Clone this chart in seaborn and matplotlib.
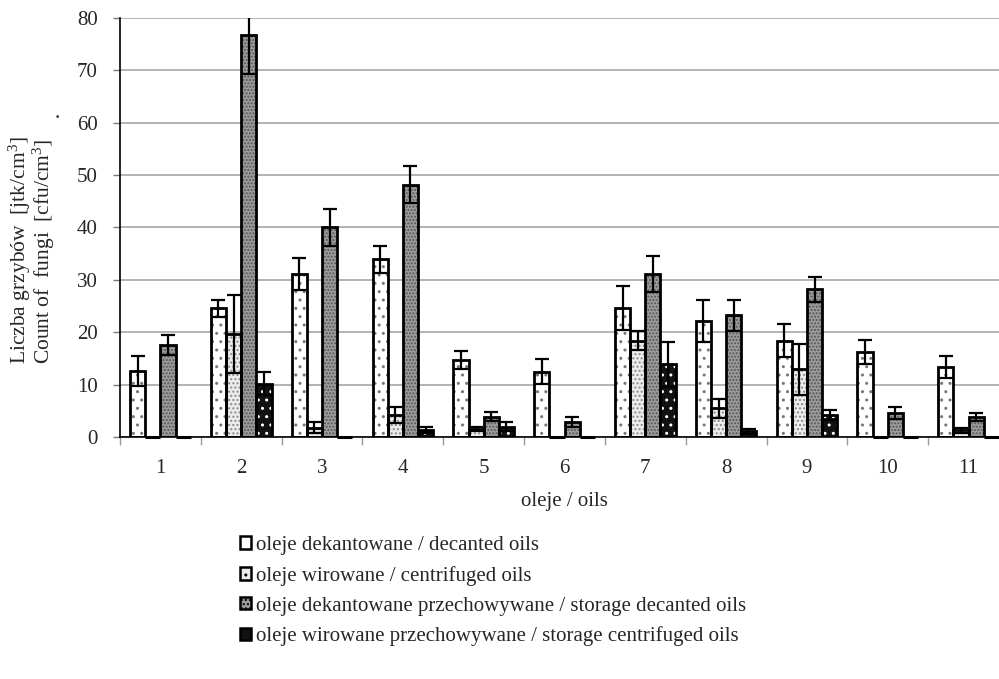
import numpy as np
import pandas as pd
import matplotlib
matplotlib.use("Agg")
import matplotlib.pyplot as plt
from matplotlib.patches import Rectangle, Patch
import seaborn as sns

categories = ["1", "2", "3", "4", "5", "6", "7", "8", "9", "10", "11"]
series_names = [
    "oleje dekantowane / decanted oils",
    "oleje wirowane / centrifuged oils",
    "oleje dekantowane przechowywane / storage decanted oils",
    "oleje wirowane przechowywane / storage centrifuged oils",
]
decanted = [12.6, 24.6, 31.1, 33.9, 14.7, 12.5, 24.6, 22.1, 18.4, 16.2, 13.4]
decanted_err = [2.8, 1.6, 3.1, 2.6, 1.7, 2.3, 4.2, 4.0, 3.2, 2.3, 2.1]
centrifuged = [0, 19.7, 1.8, 4.2, 1.5, 0, 18.4, 5.5, 12.9, 0, 1.3]
centrifuged_err = [0, 7.4, 1.0, 1.6, 0.4, 0, 1.8, 1.8, 4.8, 0, 0.5]
storage_decanted = [17.5, 76.7, 40.0, 48.2, 3.9, 2.9, 31.1, 23.2, 28.2, 4.6, 3.8]
storage_decanted_err = [1.9, 7.3, 3.6, 3.5, 0.8, 0.9, 3.4, 3.0, 2.4, 1.1, 0.8]
storage_centrifuged = [0, 10.2, 0, 1.3, 2.0, 0, 13.9, 1.1, 4.2, 0, 0]
storage_centrifuged_err = [0, 2.2, 0, 0.6, 0.8, 0, 4.3, 0.5, 1.0, 0, 0]

values = [decanted, centrifuged, storage_decanted, storage_centrifuged]
errors = [decanted_err, centrifuged_err, storage_decanted_err, storage_centrifuged_err]

rows = []
for name, vals in zip(series_names, values):
    for c, v in zip(categories, vals):
        rows.append({"cat": c, "series": name, "value": v})
df = pd.DataFrame(rows)

FS = 15

sns.set_style("white")
plt.rcParams["font.family"] = ["Liberation Serif", "DejaVu Serif"]
plt.rcParams["font.size"] = FS
plt.rcParams["mathtext.fontset"] = "custom"
plt.rcParams["mathtext.rm"] = "Liberation Serif"
plt.rcParams["mathtext.it"] = "Liberation Serif"
plt.rcParams["hatch.linewidth"] = 1.0

faces = ["#ffffff", "#ececec", "#9c9c9c", "#111111"]
hatch_colors = ["#777777", "#8a8a8a", "#555555", "#ffffff"]
hatches = ["..", "....", ".....", ".."]

fig = plt.figure(figsize=(9.99, 6.79), dpi=100)
ax = fig.add_axes([120 / 999, 1 - 437 / 679, 889 / 999, 419 / 679])

sns.barplot(data=df, x="cat", y="value", hue="series", order=categories,
            hue_order=series_names, palette=faces, width=0.75, ax=ax,
            legend=False, saturation=1, errorbar=None)

bar_containers = list(ax.containers)
for i, cont in enumerate(bar_containers):
    xs, hs = [], []
    for p in cont.patches:
        x0, y0 = p.get_x(), p.get_y()
        w, h = p.get_width(), p.get_height()
        p.set_hatch(hatches[i])
        p.set_edgecolor(hatch_colors[i])
        p.set_linewidth(0)
        p.set_zorder(2)
        if h > 0:
            ax.add_patch(Rectangle((x0, y0), w, h, fill=False, edgecolor="black",
                                   linewidth=2.0, zorder=3))
        else:
            ax.hlines(y0, x0, x0 + w, color="black", linewidth=2.2, zorder=3.5,
                      clip_on=False)
        xs.append(x0 + w / 2)
        hs.append(h)
    err = np.array(errors[i], dtype=float)
    hs = np.array(hs)
    mask = err > 0
    ax.errorbar(np.array(xs)[mask], hs[mask], yerr=err[mask], fmt="none",
                ecolor="black", elinewidth=1.6, capsize=5, capthick=1.6, zorder=4)

ax.set_xlim(-0.5, 10.5)
ax.set_ylim(0, 80)
ax.set_yticks(np.arange(0, 81, 10))
ax.yaxis.grid(True, color="#a6a6a6", linewidth=1.2)
ax.set_axisbelow(True)
for s in ["top", "right"]:
    ax.spines[s].set_visible(False)
ax.spines["left"].set_color("black")
ax.spines["left"].set_linewidth(1.2)
ax.spines["bottom"].set_color("black")
ax.spines["bottom"].set_linewidth(1.2)

ax.tick_params(axis="y", which="major", left=True, length=5, width=1, color="#777777", pad=11, labelsize=FS)
ax.tick_params(axis="x", which="major", bottom=False, length=0, pad=16, labelsize=FS)
ax.set_xticks(np.arange(-0.5, 10.6, 1), minor=True)
ax.tick_params(axis="x", which="minor", bottom=True, length=6, width=1, color="#999999")

ax.set_xlabel("oleje / oils", fontsize=FS, labelpad=10)
ax.set_ylabel("")

LFS = 15.5
fig.text(20 / 999, 1 - 364 / 679, "Liczba grzybów  [jtk/cm$^{3}$]", rotation=90,
         ha="center", va="bottom", fontsize=LFS)
fig.text(44 / 999, 1 - 364 / 679, "Count of  fungi  [cfu/cm$^{3}$]", rotation=90,
         ha="center", va="bottom", fontsize=LFS)
fig.text(57 / 999, 1 - 114 / 679, ".", ha="center", va="center", fontsize=LFS)

legend_hatches = [None, "..", "....", None]
handles = [Patch(facecolor=faces[i], edgecolor="black", linewidth=1.8,
                 hatch=legend_hatches[i])
           for i in range(4)]
fig.legend(handles, series_names, loc="upper left",
           bbox_to_anchor=(240 / 999, 1 - 536 / 679), frameon=False,
           handlelength=0.55, handleheight=0.55, handletextpad=0.2,
           labelspacing=0.52, borderpad=0, borderaxespad=0, fontsize=FS)

fig.savefig("out.png", dpi=100)
